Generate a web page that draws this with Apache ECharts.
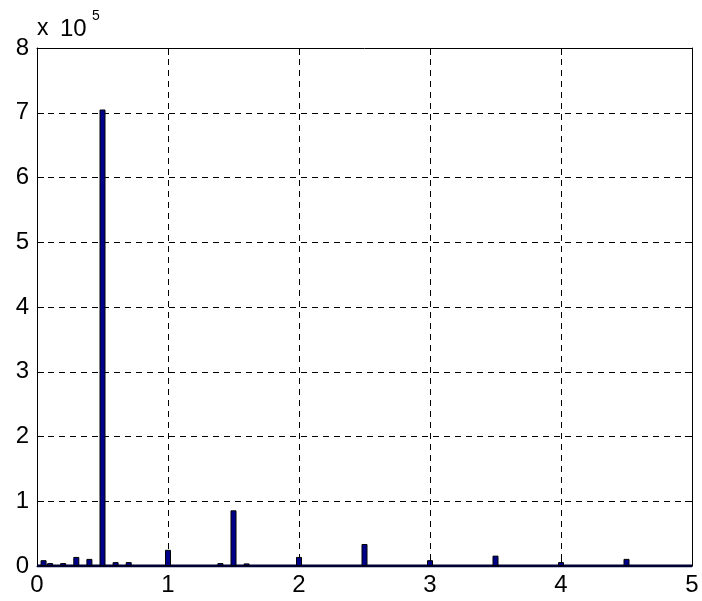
<!DOCTYPE html>
<html>
<head>
<meta charset="utf-8">
<script src="https://cdn.jsdelivr.net/npm/echarts@6/dist/echarts.min.js"></script>
<style>
html,body{margin:0;padding:0;background:#fff;}
#chart{width:702px;height:601px;}
</style>
</head>
<body>
<div id="chart"></div>
<script>
// Frequency bins (x) and amplitudes (y) of the non-zero bars
var binX = [0.05, 0.1, 0.2, 0.3, 0.4, 0.5, 0.6, 0.7, 1.0, 1.4, 1.5, 1.6, 2.0, 2.5, 3.0, 3.5, 4.0, 4.5];
var binY = [9000, 4500, 4500, 14000, 11000, 705000, 6000, 6000, 25000, 4500, 86000, 4000, 14000, 34000, 9000, 16000, 6000, 11000];
var xTicks = [0, 1, 2, 3, 4, 5];
var yTicks = [0, 1, 2, 3, 4, 5, 6, 7, 8]; // in units of 1e5
var yScale = 100000;

var chart = echarts.init(document.getElementById('chart'));
var font = 'Liberation Sans, Arial, Helvetica, sans-serif';
var data = binX.map(function (x, i) { return [x, binY[i]]; });

var dashed = { show: true, lineStyle: { color: '#000', width: 1, type: [6, 5] } };
var tickStyle = { show: true, inside: true, length: 7, lineStyle: { color: '#000', width: 1 } };

chart.setOption({
  animation: false,
  backgroundColor: '#fff',
  grid: { left: 37, right: 10, top: 48, bottom: 35, containLabel: false },
  xAxis: [{
    type: 'value', min: xTicks[0], max: xTicks[xTicks.length - 1], interval: 1,
    position: 'bottom',
    axisLine: { show: true, onZero: false, lineStyle: { color: '#000', width: 1 } },
    axisTick: tickStyle,
    axisLabel: { color: '#000', fontSize: 24, fontFamily: font, margin: 7 },
    splitLine: dashed
  }, {
    type: 'value', min: xTicks[0], max: xTicks[xTicks.length - 1], interval: 1,
    position: 'top',
    axisLine: { show: true, onZero: false, lineStyle: { color: '#000', width: 1 } },
    axisTick: tickStyle,
    axisLabel: { show: false },
    splitLine: { show: false }
  }],
  yAxis: [{
    type: 'value', min: 0, max: yTicks[yTicks.length - 1] * yScale, interval: yScale,
    position: 'left',
    axisLine: { show: true, onZero: false, lineStyle: { color: '#000', width: 1 } },
    axisTick: tickStyle,
    axisLabel: { color: '#000', fontSize: 24, fontFamily: font, margin: 8,
      formatter: function (v) { return String(Math.round(v / yScale)); } },
    splitLine: dashed
  }, {
    type: 'value', min: 0, max: yTicks[yTicks.length - 1] * yScale, interval: yScale,
    position: 'right',
    axisLine: { show: true, onZero: false, lineStyle: { color: '#000', width: 1 } },
    axisTick: tickStyle,
    axisLabel: { show: false },
    splitLine: { show: false }
  }],
  series: [{
    type: 'bar',
    xAxisIndex: 0, yAxisIndex: 0,
    data: data,
    barWidth: 6,
    itemStyle: { color: '#00008B', borderColor: '#000', borderWidth: 1 }
  }, {
    // thick baseline formed by zero-height bars in the original
    type: 'line',
    xAxisIndex: 0, yAxisIndex: 0,
    data: [[xTicks[0], 0], [xTicks[xTicks.length - 1], 0]],
    symbol: 'none',
    lineStyle: { color: '#000033', width: 3 },
    z: 1
  }],
  graphic: [{
    type: 'text', left: 37, top: 17,
    style: { text: 'x', fontSize: 23, fontFamily: font, fill: '#000' }
  }, {
    type: 'text', left: 60, top: 17,
    style: { text: '10', fontSize: 24, fontFamily: font, fill: '#000' }
  }, {
    type: 'text', left: 92, top: 9,
    style: { text: '5', fontSize: 14, fontFamily: font, fill: '#000' }
  }]
});
</script>
</body>
</html>
